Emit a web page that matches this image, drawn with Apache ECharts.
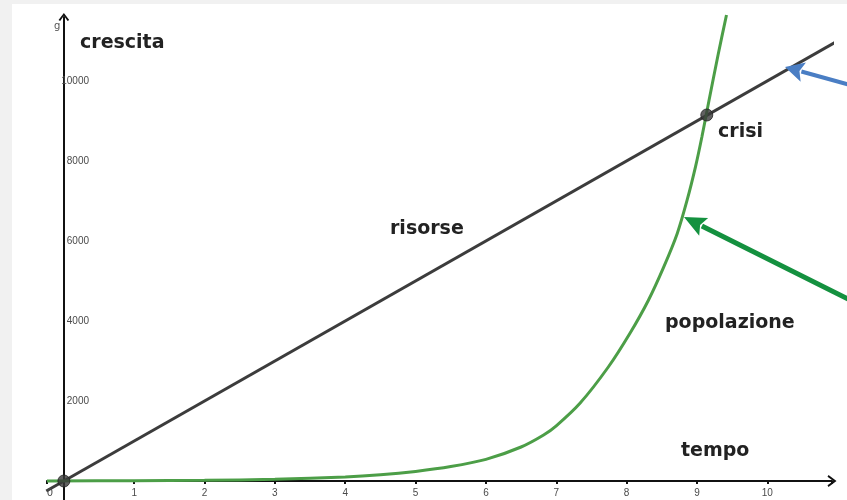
<!DOCTYPE html>
<html>
<head>
<meta charset="utf-8">
<script src="https://cdn.jsdelivr.net/npm/echarts@6/dist/echarts.min.js"></script>
<style>
html,body{margin:0;padding:0;background:#ffffff;}
#chart{width:847px;height:500px;}
</style>
</head>
<body>
<div id="chart"></div>
<script>
// ---- data ----
const risorse = [[-0.25, -250], [10.96, 10960]];
const popolazione = [[-0.24, 3], [1, 8], [2, 18], [3, 42], [4, 100], [4.5, 155], [5, 240], [5.5, 360], [6, 540], [6.5, 850], [6.82, 1150], [7, 1380], [7.34, 1950], [7.74, 2850], [8.05, 3700], [8.31, 4520], [8.53, 5360], [8.72, 6190], [8.86, 7020], [8.98, 7860], [9.07, 8600], [9.17, 9500], [9.3, 10650], [9.42, 11650]];
const puntiNotevoli = [[0, 0], [9.14, 9150]];
const xTickLabels = ['1','2','3','4','5','6','7','8','9','10'];
const yTickLabels = ['2000','4000','6000','8000','10000'];

const chart = echarts.init(document.getElementById('chart'), null, {renderer: 'canvas'});

const chevron = 'path://M0,8 L6,0 L12,8 L10.2,9 L6,3.2 L1.8,9 Z';

function arrowGraphic(tail, tip, color, width, headLen, headHalf) {
  const dx = tip[0] - tail[0], dy = tip[1] - tail[1];
  const len = Math.sqrt(dx*dx + dy*dy);
  const ux = dx/len, uy = dy/len;
  const bx = tip[0] - ux*headLen, by = tip[1] - uy*headLen;
  const px = -uy, py = ux;
  return [
    {type:'line', z:50, shape:{x1:tail[0], y1:tail[1], x2:bx+ux*2, y2:by+uy*2}, style:{stroke:color, lineWidth:width}},
    {type:'polygon', z:50, shape:{points:[[tip[0],tip[1]],[bx+px*headHalf, by+py*headHalf],[bx+ux*4, by+uy*4],[bx-px*headHalf, by-py*headHalf]]}, style:{fill:color}}
  ];
}

function label(text, x, y, size, color, weight, align) {
  return {type:'text', z:40, x:x, y:y, style:{text:text, font:(weight||'bold')+' '+size+'px "DejaVu Sans"', fill:color, align:align||'left', verticalAlign:'middle', textAlign:align||'left', textVerticalAlign:'middle'}};
}

const X_MIN = -0.24, X_MAX = 10.92, Y_MIN = -475, Y_MAX = 11600;
const tickFont = {fontSize: 10, color: '#4a4a4a', fontFamily: 'Liberation Sans'};

const option = {
  backgroundColor: '#ffffff',
  animation: false,
  grid: {left: 47, right: 15, top: 17, bottom: 0, containLabel: false, outerBoundsMode: 'none'},
  xAxis: [{
    type: 'value', min: X_MIN, max: X_MAX, splitNumber: 11,
    axisLine: {show: true, onZero: true, symbol: ['none', chevron], symbolSize: [12, 9], lineStyle: {color: '#111', width: 2}},
    axisTick: {show: true, length: 3, lineStyle: {color: '#111', width: 2}},
    axisLabel: {show: false},
    splitLine: {show: false}
  }, {
    type: 'value', min: X_MIN, max: X_MAX, splitNumber: 11, position: 'bottom', offset: -20,
    axisLine: {show: false, onZero: false}, axisTick: {show: false}, splitLine: {show: false},
    axisLabel: Object.assign({margin: 8, formatter: function(v){ const s = String(v); return xTickLabels.indexOf(s) >= 0 ? s : ''; }}, tickFont)
  }],
  yAxis: [{
    type: 'value', min: Y_MIN, max: Y_MAX, splitNumber: 6,
    axisLine: {show: true, onZero: true, symbol: ['none', chevron], symbolSize: [13, 8], lineStyle: {color: '#111', width: 2}},
    axisTick: {show: false},
    axisLabel: {show: false},
    splitLine: {show: false}
  }, {
    type: 'value', min: Y_MIN, max: Y_MAX, splitNumber: 6, position: 'left', offset: -50,
    axisLine: {show: false, onZero: false}, axisTick: {show: false}, splitLine: {show: false},
    axisLabel: Object.assign({margin: 8, formatter: function(v){ const s = String(v); return yTickLabels.indexOf(s) >= 0 ? s : ''; }}, tickFont)
  }],
  series: [
    {type: 'line', name: 'risorse', data: risorse, showSymbol: false, clip: false, z: 3,
      lineStyle: {color: '#3c3c3c', width: 3}},
    {type: 'line', name: 'popolazione', data: popolazione, showSymbol: false, clip: false, smooth: 0.3, z: 4,
      lineStyle: {color: '#4c9e47', width: 3}},
    {type: 'scatter', data: puntiNotevoli, symbolSize: 12, clip: false, z: 6,
      itemStyle: {color: '#3a3a3a', borderColor: '#222', borderWidth: 1}}
  ],
  graphic: [
    {type:'rect', z:100, shape:{x:0, y:0, width:12, height:500}, style:{fill:'#f1f1f1'}},
    {type:'rect', z:100, shape:{x:0, y:0, width:847, height:4}, style:{fill:'#f1f1f1'}},
    label('crescita', 80, 43, 19, '#222'),
    label('risorse', 390, 229, 19, '#222'),
    label('crisi', 718, 132, 19, '#222'),
    label('popolazione', 665, 323, 19, '#222'),
    label('tempo', 681, 451, 19, '#222'),
    label('g', 54, 26, 10, '#555', 'normal'),
    label('0', 50, 493, 10, '#4a4a4a', 'normal', 'center')
  ].concat(arrowGraphic([850, 85], [785, 67], '#4a7ec4', 4, 19, 10))
   .concat(arrowGraphic([850, 300], [684, 217], '#14913f', 5, 22, 10))
};
chart.setOption(option);
</script>
</body>
</html>
